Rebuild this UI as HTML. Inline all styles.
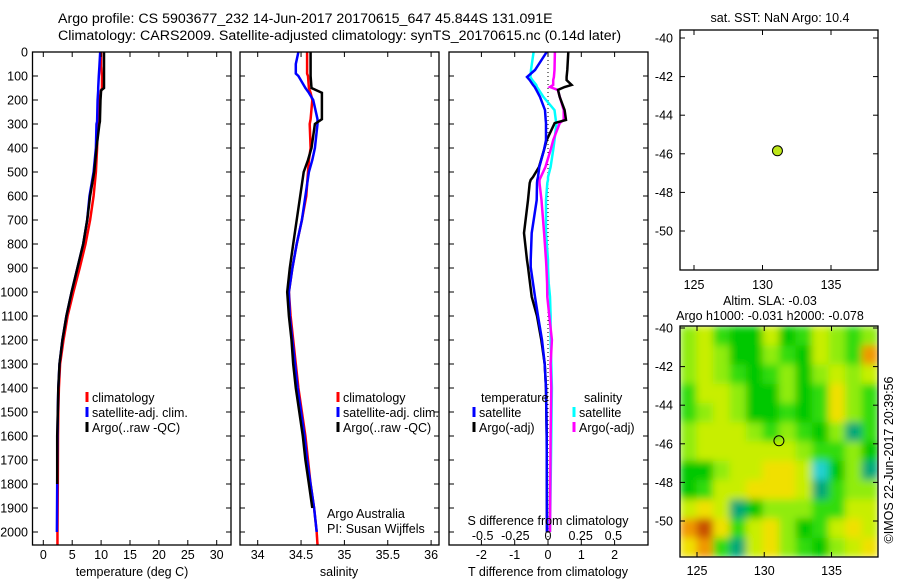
<!DOCTYPE html>
<html><head><meta charset="utf-8"><style>
body{margin:0;background:#fff;}
svg{display:block;font-family:"Liberation Sans",sans-serif;}
text{font-size:12.5px;fill:#000;}
</style></head><body>
<svg id="chart" width="900" height="580" viewBox="0 0 900 580" xmlns="http://www.w3.org/2000/svg">
<defs>
<filter id="blur" x="0" y="0" width="1" height="1"><feGaussianBlur stdDeviation="4" edgeMode="duplicate"/></filter>
<clipPath id="mapclip"><rect x="680" y="326" width="198" height="231"/></clipPath>
</defs>
<text x="58" y="23" style="font-size:14.2px">Argo profile: CS 5903677_232 14-Jun-2017 20170615_647 45.844S 131.091E</text>
<text x="58" y="40" style="font-size:14.2px">Climatology: CARS2009. Satellite-adjusted climatology: synTS_20170615.nc (0.14d later)</text>
<g id="heat" clip-path="url(#mapclip)"><g id="heatcells" filter="url(#blur)"></g></g>
<g id="marks"></g>
<g id="axes"></g>
</svg>
<script>
// ---- data ----
const depthT = [0,60,100,150,160,200,290,300,400,500,600,700,800,900,1000,1100,1200,1300,1400,1500,1600,1800,2000];
const tempArgo = [10.5,10.5,10.5,10.5,10.0,9.9,9.8,9.7,9.2,8.8,8.1,7.6,6.9,5.9,4.9,4.0,3.3,2.8,2.6,2.5,2.4,2.4,2.35];
const tempSat = [9.85,9.7,9.6,9.5,9.5,9.4,9.3,9.2,9.1,8.7,8.0,7.6,6.9,5.9,4.9,4.0,3.3,2.8,2.6,2.5,2.45,2.4,2.35];
const tempClim = [10.0,10.0,10.15,10.15,10.0,9.7,9.5,9.4,9.3,9.1,8.7,8.1,7.3,6.3,5.2,4.2,3.5,2.9,2.7,2.6,2.55,2.5,2.45];
const depthS = [0,50,90,100,150,170,200,280,300,400,450,500,600,700,800,900,1000,1100,1200,1300,1400,1500,1600,1700,1800,1900,2000];
const salArgo = [34.61,34.61,34.61,34.61,34.62,34.74,34.74,34.74,34.66,34.62,34.58,34.53,34.49,34.45,34.41,34.37,34.34,34.36,34.39,34.41,34.44,34.48,34.52,34.55,34.59,34.63,34.66];
const salSat = [34.47,34.44,34.44,34.47,34.55,34.59,34.64,34.69,34.69,34.66,34.63,34.59,34.55,34.51,34.45,34.40,34.36,34.37,34.40,34.43,34.46,34.50,34.54,34.57,34.61,34.65,34.68];
const salClim = [34.57,34.57,34.57,34.58,34.59,34.61,34.63,34.61,34.60,34.61,34.59,34.58,34.56,34.51,34.45,34.40,34.36,34.38,34.41,34.44,34.47,34.51,34.55,34.58,34.61,34.65,34.68];
const depthD = [0,75,104,117,137,146,158,187,242,283,296,367,408,479,521,533,546,617,754,867,896,963,1020,1100,1200,1300,1400,1600,2000];
const tDiffArgo = [0.61,0.58,0.56,0.56,0.71,0.5,0.3,0.35,0.5,0.54,0.2,-0.04,-0.12,-0.27,-0.45,-0.52,-0.55,-0.6,-0.72,-0.63,-0.6,-0.54,-0.49,-0.33,-0.2,-0.1,-0.06,-0.04,-0.03];
const tDiffSat = [-0.04,-0.39,-0.63,-0.55,-0.45,-0.4,-0.35,-0.24,-0.09,-0.07,-0.06,-0.06,-0.12,-0.26,-0.3,-0.32,-0.33,-0.34,-0.49,-0.52,-0.52,-0.45,-0.39,-0.3,-0.18,-0.1,-0.06,-0.04,-0.03];
const sDiffSat = [-0.11,-0.13,-0.135,-0.12,-0.09,-0.085,-0.07,-0.035,0.05,0.06,0.065,0.05,0.04,0.02,0.0,0.0,-0.005,-0.015,-0.015,0.0,0.0,0.005,0.015,0.02,0.02,0.025,0.03,0.025,0.015];
const sDiffArgo = [0.053,0.05,0.045,0.04,0.04,0.015,0.075,0.09,0.12,0.12,0.09,0.04,0.02,-0.02,-0.055,-0.065,-0.065,-0.05,-0.03,-0.015,-0.012,-0.007,-0.005,0.01,0.03,0.02,0.025,0.02,0.015];
const tTicks = [0,5,10,15,20,25,30];
const sTicks = [34,34.5,35,35.5,36];
const tdTicks = [-2,-1,0,1,2];
const sdTicks = [-0.5,-0.25,0,0.25,0.5];
const depthTicks = [0,100,200,300,400,500,600,700,800,900,1000,1100,1200,1300,1400,1500,1600,1700,1800,1900,2000];
const lonTicks = [125,130,135];
const latTicks = [-40,-42,-44,-46,-48,-50];
const argoLon = [131.091];
const argoLat = [-45.844];
const slaGrid = [
 [2,3,1,0,0,3,0,1,3,2,1,2],
 [2,3,2,0,0,2,1,0,3,2,1,5],
 [2,3,2,1,0,1,2,0,2,3,2,3],
 [1,3,3,2,0,0,2,0,1,4,2,1],
 [1,2,3,2,0,0,1,0,1,4,2,1],
 [2,3,3,3,2,1,2,1,0,2,-1,1],
 [2,3,3,3,3,3,3,2,1,1,2,-0.5],
 [-0.5,0,2,3,3,4,4,3,-2,0,2,-1],
 [0,1,3,3,4,4,4,3,-1,1,2,2],
 [3,4,3,-1,0,2,2,2,1,1,3,3],
 [5,6,4,1,3,4,2,0,1,3,4,3],
 [4,5,1,-1,3,4,2,1,0,2,3,4]
];
// ---- scales ----
const NS='http://www.w3.org/2000/svg';
const yD = d => 52 + d*0.24;
const xT = t => 43.3 + t*5.78;
const xS = s => 257.7 + (s-34)*86.7;
const xTD = v => 548 + v*33.3;
const xSD = v => 548 + v*130.7;
const m1x = lon => 694 + (lon-125)*13.7;
const m1y = lat => 38 + (-40-lat)*19.3;
const m2x = lon => 697 + (lon-125)*13.45;
const m2y = lat => 328 + (-40-lat)*19.3;
const marks=document.getElementById('marks'), axes=document.getElementById('axes');
function el(tag,attrs,parent){const e=document.createElementNS(NS,tag);for(const k in attrs)e.setAttribute(k,attrs[k]);(parent||marks).appendChild(e);return e;}
function line(xs,ds,xf,color,name,maxD){
  let pts=[];
  for(let i=0;i<xs.length;i++){if(maxD!==undefined&&ds[i]>maxD)break;pts.push(xf(xs[i]).toFixed(1)+','+yD(ds[i]).toFixed(1));}
  const p=el('polyline',{points:pts.join(' '),fill:'none',stroke:color,'stroke-width':2.5});
  
  
}
function txt(x,y,s,anchor,parent,size){const t=el('text',{x:x,y:y,'text-anchor':anchor||'start'},parent||axes);if(size)t.style.fontSize=size+'px';t.textContent=s;return t;}
// heatmap
const cols=['#22d0d0','#00a878','#00c800','#30dc10','#90ec10','#c8ee00','#f0e000','#f09800','#c85000'];
function colorOf(v){const i=Math.max(0,Math.min(8,Math.round(v+2)));return cols[i];}
const hc=document.getElementById('heatcells');
const cw=198/12, ch=231/12;
for(let r=0;r<slaGrid.length;r++)for(let c=0;c<slaGrid[r].length;c++){
  const rc=el('rect',{x:(680+c*cw).toFixed(1),y:(326+r*ch).toFixed(1),width:(cw+0.6).toFixed(1),height:(ch+0.6).toFixed(1),fill:colorOf(slaGrid[r][c])},hc);
  
  
}
// series
line(tempClim,depthT,xT,'#ff0000','temp-climatology-line');
line(tempSat,depthT,xT,'#0000ff','temp-satellite-line');
line(tempArgo,depthT,xT,'#000000','temp-argo-line',1900);
line(salClim,depthS,xS,'#ff0000','sal-climatology-line');
line(salSat,depthS,xS,'#0000ff','sal-satellite-line');
line(salArgo,depthS,xS,'#000000','sal-argo-line',1900);
el('line',{x1:548,y1:52,x2:548,y2:545,stroke:'#000','stroke-width':1,'stroke-dasharray':'1,3'});
line(sDiffSat,depthD,xSD,'#00ffff','sdiff-satellite-line');
line(sDiffArgo,depthD,xSD,'#ff00ff','sdiff-argo-line');
line(tDiffArgo,depthD,xTD,'#000000','tdiff-argo-line');
line(tDiffSat,depthD,xTD,'#0000ff','tdiff-satellite-line');
el('line',{x1:xT(tempClim[tempClim.length-1]),y1:yD(2000),x2:xT(tempClim[tempClim.length-1]),y2:545,stroke:'#f00','stroke-width':2.5});
el('line',{x1:xS(salClim[salClim.length-1]),y1:yD(2000),x2:xS(34.69),y2:545,stroke:'#f00','stroke-width':2.5});
// panels
function box(x,y,w,h,name){const b=el('rect',{x:x,y:y,width:w,height:h,fill:'none',stroke:'#000','stroke-width':1.3},axes);}
box(32.5,52,198.5,493,'temperature-panel');
box(240,52,199,493,'salinity-panel');
box(449,52,199,493,'difference-panel');
box(680,30,198,240,'sst-map-panel');
box(680,326,198,231,'sla-map-panel');
depthTicks.forEach(d=>{
  el('line',{x1:32.5,y1:yD(d),x2:38,y2:yD(d),stroke:'#000'},axes);
  el('line',{x1:231,y1:yD(d),x2:226,y2:yD(d),stroke:'#000'},axes);
  el('line',{x1:240,y1:yD(d),x2:245,y2:yD(d),stroke:'#000'},axes);
  el('line',{x1:439,y1:yD(d),x2:434,y2:yD(d),stroke:'#000'},axes);
  el('line',{x1:449,y1:yD(d),x2:454,y2:yD(d),stroke:'#000'},axes);
  el('line',{x1:648,y1:yD(d),x2:643,y2:yD(d),stroke:'#000'},axes);
  txt(28,yD(d)+4.5,String(d),'end');
});
function xticks(ticks,f,lblY){ticks.forEach(t=>{const x=f(t);
  el('line',{x1:x,y1:545,x2:x,y2:540,stroke:'#000'},axes);el('line',{x1:x,y1:52,x2:x,y2:57,stroke:'#000'},axes);
  txt(x,lblY,String(t),'middle');});}
xticks(tTicks,xT,559);xticks(sTicks,xS,559);xticks(tdTicks,xTD,559);
sdTicks.forEach(t=>txt(xSD(t),540,String(t),'middle'));
txt(132,576,'temperature (deg C)','middle');
txt(339,576,'salinity','middle');
txt(548,576,'T difference from climatology','middle');
txt(548,525,'S difference from climatology','middle');
function leg(x,y,c,s){el('line',{x1:x,y1:y-10,x2:x,y2:y,stroke:c,'stroke-width':3},axes);txt(x+5,y,s,'start');}
leg(87,402,'#f00','climatology');leg(87,417,'#00f','satellite-adj. clim.');leg(87,432,'#000','Argo(..raw -QC)');
leg(338,402,'#f00','climatology');leg(338,417,'#00f','satellite-adj. clim.');leg(338,432,'#000','Argo(..raw -QC)');
txt(481,402,'temperature');txt(584,402,'salinity');
leg(474,417,'#00f','satellite');leg(474,432,'#000','Argo(-adj)');
leg(574,417,'#0ff','satellite');leg(574,432,'#f0f','Argo(-adj)');
txt(327,518,'Argo Australia');txt(327,533,'PI: Susan Wijffels');
txt(780,22,'sat. SST: NaN Argo: 10.4','middle');
lonTicks.forEach(l=>{const x=m1x(l);el('line',{x1:x,y1:270,x2:x,y2:265,stroke:'#000'},axes);el('line',{x1:x,y1:30,x2:x,y2:35,stroke:'#000'},axes);txt(x,289,String(l),'middle');});
latTicks.forEach(l=>{const y=m1y(l);el('line',{x1:680,y1:y,x2:685,y2:y,stroke:'#000'},axes);el('line',{x1:878,y1:y,x2:873,y2:y,stroke:'#000'},axes);txt(673,y+4.5,String(l),'end');});
const pt=el('circle',{cx:m1x(argoLon[0]),cy:m1y(argoLat[0]),r:5,fill:'#bde619',stroke:'#000','stroke-width':1},axes);

txt(770,305,'Altim. SLA: -0.03','middle');
txt(770,320,'Argo h1000: -0.031 h2000: -0.078','middle');
lonTicks.forEach(l=>{const x=m2x(l);el('line',{x1:x,y1:557,x2:x,y2:552,stroke:'#000'},axes);el('line',{x1:x,y1:326,x2:x,y2:331,stroke:'#000'},axes);txt(x,575,String(l),'middle');});
latTicks.forEach(l=>{const y=m2y(l);el('line',{x1:680,y1:y,x2:685,y2:y,stroke:'#000'},axes);el('line',{x1:878,y1:y,x2:873,y2:y,stroke:'#000'},axes);txt(673,y+4.5,String(l),'end');});
const pt2=el('circle',{cx:m2x(argoLon[0]),cy:m2y(argoLat[0]),r:5,fill:'none',stroke:'#000','stroke-width':1},axes);

const cr=txt(0,0,'©IMOS 22-Jun-2017 20:39:56','middle');
cr.setAttribute('transform','translate(893,460) rotate(-90)');

</script>
</body></html>
